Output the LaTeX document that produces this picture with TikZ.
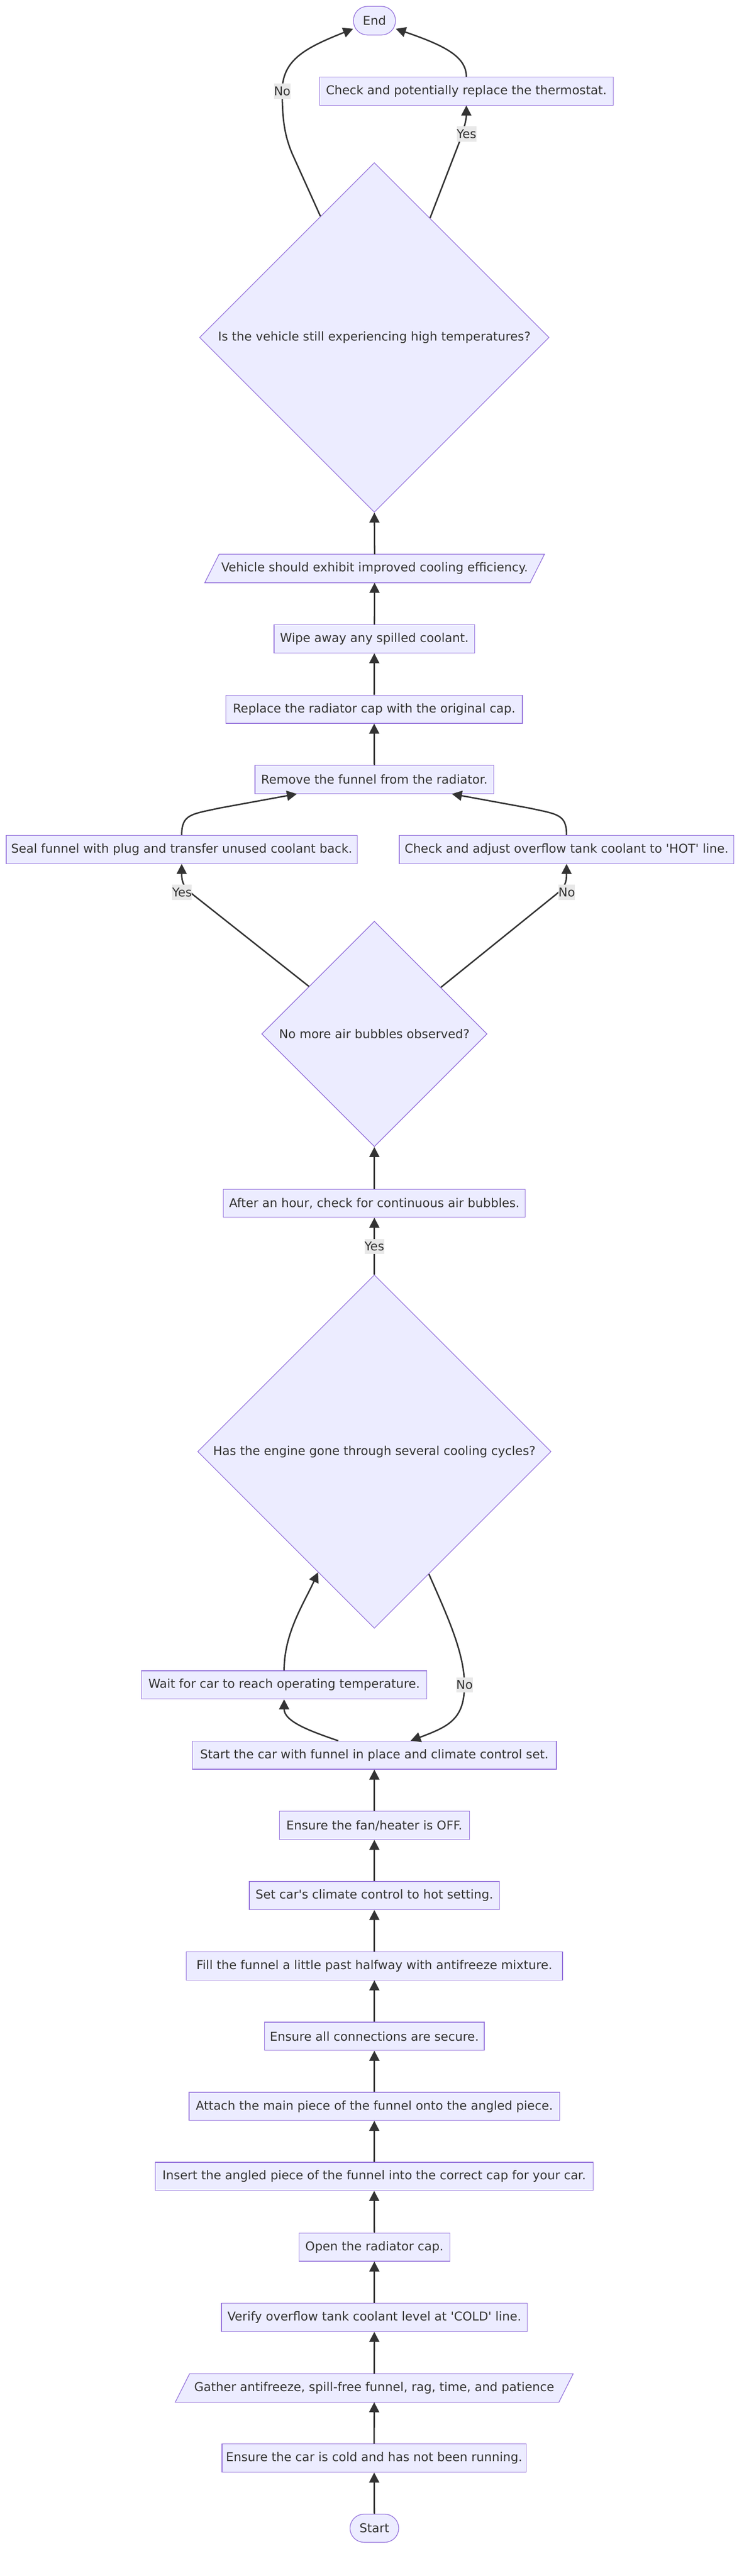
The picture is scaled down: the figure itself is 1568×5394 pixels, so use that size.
\documentclass[tikz,border=0pt]{standalone}
\usepackage{fontspec}
\setmainfont{DejaVu Sans}
\usetikzlibrary{shapes.geometric,arrows.meta,calc}
\definecolor{nodefill}{HTML}{ECECFF}
\definecolor{nodeborder}{HTML}{9370DB}
\definecolor{edgecol}{HTML}{333333}
\definecolor{textcol}{HTML}{333333}
\definecolor{labelfill}{HTML}{E8E8E8}
\pgfdeclarelayer{bg}
\pgfsetlayers{bg,main}
\newcommand\nodefont{\fontsize{25.5pt}{30pt}\selectfont}
\begin{document}
\begin{tikzpicture}[x=1pt,y=-1pt,
  box/.style={draw=nodeborder, fill=nodefill, line width=1.4pt, minimum height=59pt, inner sep=0pt, text=textcol, font=\nodefont},
  term/.style={box, rounded corners=29.5pt},
  decision/.style={diamond, aspect=1, draw=nodeborder, fill=nodefill, line width=1.4pt, inner sep=0pt, text=textcol, font=\nodefont},
  plain/.style={inner sep=0pt, minimum height=59.3pt, text=textcol, font=\nodefont},
  pgram/.style={draw=nodeborder, fill=nodefill, line width=1.4pt},
  edge/.style={draw=edgecol, line width=3pt, -{Triangle[length=21pt,width=21pt]}},
  elabel/.style={fill=labelfill, inner xsep=0pt, inner ysep=0pt, minimum height=32pt, text=textcol, font=\nodefont}]
\useasboundingbox (0,0) rectangle (1568,5394);

% nodes
\node[term, minimum width=88pt, minimum height=60pt] (End) at (784.2,43.3) {End};
\node[box, minimum width=615pt] (Therm) at (976.6,190.8) {Check and potentially replace the thermostat.};
\node[decision, minimum width=732pt, minimum height=732pt] (D1) at (784,706.6) {Is the vehicle still experiencing high temperatures?};
\node[plain, minimum width=651pt] (Veh) at (784.5,1190.4) {Vehicle should exhibit improved cooling efficiency.};
\node[box, minimum width=420pt] (Wipe) at (784,1337.7) {Wipe away any spilled coolant.};
\node[box, minimum width=621pt] (Replace) at (783.5,1485) {Replace the radiator cap with the original cap.};
\node[box, minimum width=500pt] (Remove) at (784,1632.2) {Remove the funnel from the radiator.};
\node[box, minimum width=735pt] (Seal) at (380.5,1778.8) {Seal funnel with plug and transfer unused coolant back.};
\node[box, minimum width=701pt] (Overflow) at (1186.5,1778.8) {Check and adjust overflow tank coolant to \textquotesingle HOT\textquotesingle{} line.};
\node[decision, minimum width=472pt, minimum height=472pt] (D2) at (784,2165) {No more air bubbles observed?};
\node[box, minimum width=632pt] (After) at (784,2519.5) {After an hour, check for continuous air bubbles.};
\node[decision, minimum width=740pt, minimum height=740pt] (D3) at (784,3039.5) {Has the engine gone through several cooling cycles?};
\node[box, minimum width=598pt] (Wait) at (595,3528) {Wait for car to reach operating temperature.};
\node[box, minimum width=762pt] (StartCar) at (784,3675.2) {Start the car with funnel in place and climate control set.};
\node[box, minimum width=398pt] (Fan) at (784,3822.3) {Ensure the fan/heater is OFF.};
\node[box, minimum width=524pt] (SetHot) at (784,3969.1) {Set car\textquotesingle s climate control to hot setting.};
\node[box, minimum width=788pt] (Fill) at (784,4116.5) {Fill the funnel a little past halfway with antifreeze mixture.};
\node[box, minimum width=460pt] (Secure) at (784,4263.8) {Ensure all connections are secure.};
\node[box, minimum width=776pt] (Attach) at (784,4410.6) {Attach the main piece of the funnel onto the angled piece.};
\node[box, minimum width=917pt] (Insert) at (783.5,4557.3) {Insert the angled piece of the funnel into the correct cap for your car.};
\node[box, minimum width=316pt] (Open) at (784,4705.2) {Open the radiator cap.};
\node[box, minimum width=640pt] (Verify) at (784,4852.5) {Verify overflow tank coolant level at \textquotesingle COLD\textquotesingle{} line.};
\node[plain, minimum width=773pt] (Gather) at (783.7,5000.3) {Gather antifreeze, spill-free funnel, rag, time, and patience};
\node[box, minimum width=637pt] (Cold) at (783.5,5147.1) {Ensure the car is cold and has not been running.};
\node[term, minimum width=102pt, minimum height=59pt] (Start) at (784,5293.9) {Start};

% white page and parallelogram outlines, behind the text
\begin{pgfonlayer}{bg}
\fill[white] (0,0) rectangle (1568,5394);
\draw[pgram] ($(Veh.south west)+(-30,0)$) -- (Veh.north west) -- ($(Veh.north east)+(30,0)$) -- (Veh.south east) -- cycle;
\draw[pgram] ($(Gather.south west)+(-30,0)$) -- (Gather.north west) -- ($(Gather.north east)+(30,0)$) -- (Gather.south east) -- cycle;
\end{pgfonlayer}

% straight edges
\draw[edge] (Start) -- (Cold);
\draw[edge] (Cold) -- (Gather);
\draw[edge] (Gather) -- (Verify);
\draw[edge] (Verify) -- (Open);
\draw[edge] (Open) -- (Insert);
\draw[edge] (Insert) -- (Attach);
\draw[edge] (Attach) -- (Secure);
\draw[edge] (Secure) -- (Fill);
\draw[edge] (Fill) -- (SetHot);
\draw[edge] (SetHot) -- (Fan);
\draw[edge] (Fan) -- (StartCar);
\draw[edge] (D3.north) -- (After.south);
\draw[edge] (After.north) -- (D2.south);
\draw[edge] (Remove) -- (Replace);
\draw[edge] (Replace) -- (Wipe);
\draw[edge] (Wipe) -- (Veh);
\draw[edge] (Veh.north) -- (D1.south);

% curved edges
\draw[edge] ($(StartCar.north)+(-75.7,0)$) .. controls (650,3625) and (595,3605) .. (Wait.south);
\draw[edge] (Wait.north) .. controls (595,3420) and (635,3360) .. (D3.245.96);
\draw[edge] (D3.294.55) .. controls (935,3380) and (972.7,3460) .. (972.7,3528) .. controls (972.7,3600) and (940,3615) .. ($(StartCar.north)+(76,0)$);
\draw[edge] (D2.144.2) -- (405,1874) .. controls (385,1858) and (380.5,1848) .. (380.5,1830) -- (Seal.south);
\draw[edge] (D2.35.8) -- (1163,1874) .. controls (1183,1858) and (1186.5,1848) .. (1186.5,1830) -- (Overflow.south);
\draw[edge] (Seal.north) .. controls (380.5,1705) and (400,1705) .. (460,1692) -- ($(Remove.south)+(-162.3,0)$);
\draw[edge] (Overflow.north) .. controls (1186.5,1705) and (1168,1705) .. (1108,1692) -- ($(Remove.south)+(162.3,0)$);
\draw[edge] (D1.65.27) -- (958,308) .. controls (972,272) and (976.6,250) .. (Therm.south);
\draw[edge] (D1.114.73) -- (612,322) .. controls (596,284) and (591,250) .. (591,191) .. controls (591,125) and (640,100) .. ($(End.west)+(0,17)$);
\draw[edge] (Therm.north) .. controls (976.6,118) and (930,95) .. ($(End.east)+(0,17)$);

% edge labels
\node[elabel] (lNo1) at (591,190.7) {No};
\node[elabel] (lYes1) at (977,280.5) {Yes};
\node[elabel] (lYes2) at (381.2,1868.5) {Yes};
\node[elabel] (lNo2) at (1187,1868.5) {No};
\node[elabel] (lYes3) at (784,2610) {Yes};
\node[elabel] (lNo3) at (972.7,3528) {No};
\end{tikzpicture}
\end{document}
